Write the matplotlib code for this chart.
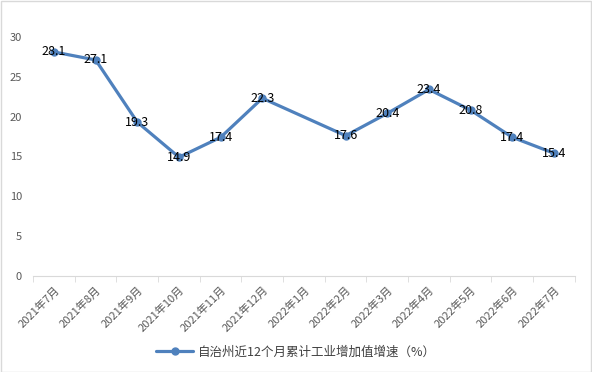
import matplotlib.pyplot as plt
import numpy as np

plt.rcParams['font.family'] = ['Noto Sans CJK SC', 'DejaVu Sans']

months = ['2021年7月', '2021年8月', '2021年9月', '2021年10月', '2021年11月', '2021年12月',
          '2022年1月', '2022年2月', '2022年3月', '2022年4月', '2022年5月', '2022年6月', '2022年7月']
values = [28.1, 27.1, 19.3, 14.9, 17.4, 22.3, np.nan, 17.6, 20.4, 23.4, 20.8, 17.4, 15.4]
series_name = '自治州近12个月累计工业增加值增速（%）'

fig = plt.figure(figsize=(5.92, 3.72), dpi=100)
ax = fig.add_axes([0.056, 0.258, 0.915, 0.643])

x = np.arange(len(months))
v = np.array(values)
ok = ~np.isnan(v)
ax.plot(x[ok], v[ok], color='#4F81BD', lw=2.3, marker='o', ms=5,
        solid_capstyle='round', label=series_name)

for xi, yi in zip(x[ok], v[ok]):
    ax.text(xi, yi, f'{yi:.1f}', ha='center', va='center', fontsize=9, color='black')

ax.set_xlim(-0.5, len(months) - 0.5)
ax.set_ylim(0, 30)
ax.set_yticks(range(0, 31, 5))
ax.set_xticks(x)
ax.set_xticklabels(months, rotation=45, ha='right', rotation_mode='anchor',
                   fontsize=8, color='#595959')
ax.set_xticks(np.arange(-0.5, len(months)), minor=True)
ax.tick_params(axis='x', which='major', length=0, pad=6)
ax.tick_params(axis='x', which='minor', length=4, color='#D9D9D9')
ax.tick_params(axis='y', length=0, labelsize=8, labelcolor='#595959', pad=8)

for s in ['top', 'right', 'left']:
    ax.spines[s].set_visible(False)
ax.spines['bottom'].set_color('#D9D9D9')

fig.legend(loc='center', bbox_to_anchor=(0.5, 0.053), frameon=False, fontsize=9,
           handlelength=3, handletextpad=0.4, labelcolor='#404040')

border = plt.Rectangle((0.001, 0.001), 0.997, 0.997, transform=fig.transFigure,
                       fill=False, edgecolor='#D9D9D9', lw=1)
fig.patches.append(border)

fig.savefig('out.png', dpi=100)
